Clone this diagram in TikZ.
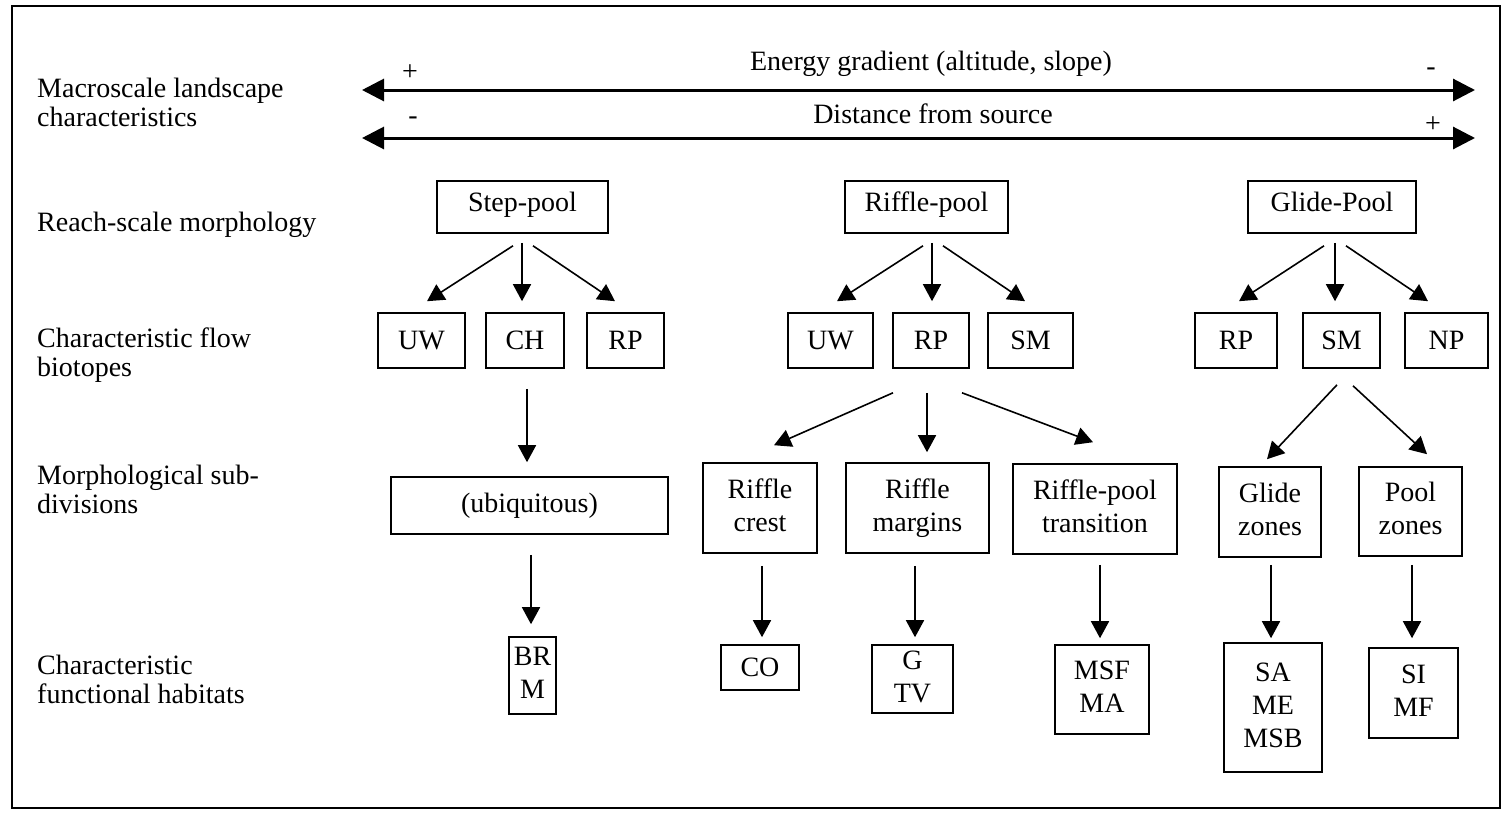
\documentclass[tikz,border=0pt]{standalone}
\usepackage{fontspec}
\setmainfont{Liberation Serif}
\usetikzlibrary{arrows.meta}
% two-line row label, first baseline at the node's base
\newcommand{\twolines}[2]{\vtop{\baselineskip=29pt\hbox{#1}\hbox{#2}}}
\begin{document}
\begin{tikzpicture}[x=1pt,y=-1pt,
  every node/.style={font=\fontsize{28}{33}\selectfont},
  box/.style={draw,line width=1.6pt,inner sep=0pt,align=center},
  topbox/.style={box,minimum height=52pt,text height=19pt,text depth=11pt},
  flowbox/.style={box,minimum height=55pt,text height=19pt,text depth=0.4pt},
  lbl/.style={anchor=base west,inner sep=0pt},
  sign/.style={inner sep=0pt},
  arr/.style={line width=1.6pt,-{Triangle[length=17pt,width=18pt]}},
  axis/.style={line width=3pt,{Triangle[length=22pt,width=22pt]}-{Triangle[length=22pt,width=22pt]}}]
\useasboundingbox (0,0) rectangle (1503,812);
\draw[line width=1.6pt] (12,6) rectangle (1500,808);

% row labels
\node[lbl] (l1) at (37,97) {\twolines{Macroscale landscape}{characteristics}};
\node[lbl] (l2) at (37,231) {Reach-scale morphology};
\node[lbl] (l3) at (37,347) {\twolines{Characteristic flow}{biotopes}};
\node[lbl] (l4) at (37,484) {\twolines{Morphological sub-}{divisions}};
\node[lbl] (l5) at (37,674) {\twolines{Characteristic}{functional habitats}};

% gradient axes
\coordinate (eL) at (362,90);
\coordinate (eR) at (1475,90);
\coordinate (dL) at (362,138);
\coordinate (dR) at (1475,138);
\draw[axis] (eL) -- (eR);
\draw[axis] (dL) -- (dR);
\node[anchor=base,inner sep=0pt] (et) at (931,70) {Energy gradient (altitude, slope)};
\node[anchor=base,inner sep=0pt] (dt) at (933,123) {Distance from source};
\node[sign] (ep) at (410,73) {+};
\node[sign] (em) at (1431,72) {-};
\node[sign] (dm) at (413,121) {-};
\node[sign] (dp) at (1433,125) {+};

% reach-scale morphology
\node[topbox,minimum width=171pt] (sp) at (522.5,207) {Step-pool};
\node[topbox,minimum width=163pt] (rp0) at (926.5,207) {Riffle-pool};
\node[topbox,minimum width=168pt] (gp) at (1332,207) {Glide-Pool};

% flow biotopes
\node[flowbox,minimum width=87pt] (uwA) at (421.5,340.5) {UW};
\node[flowbox,minimum width=78pt] (ch) at (525,340.5) {CH};
\node[flowbox,minimum width=77pt] (rpA) at (625.5,340.5) {RP};
\node[flowbox,minimum width=85pt] (uwB) at (830.5,340.5) {UW};
\node[flowbox,minimum width=76pt] (rpB) at (931,340.5) {RP};
\node[flowbox,minimum width=85pt] (smB) at (1030.5,340.5) {SM};
\node[flowbox,minimum width=82pt] (rpC) at (1236,340.5) {RP};
\node[flowbox,minimum width=77pt] (smC) at (1341.5,340.5) {SM};
\node[flowbox,minimum width=83pt] (npC) at (1446.5,340.5) {NP};

% morphological sub-divisions
\node[box,minimum width=277pt,minimum height=57pt] (ubiq) at (529.5,505.5) {(ubiquitous)};
\node[box,minimum width=114pt,minimum height=90pt] (crest) at (760,508) {\strut Riffle\\\strut crest};
\node[box,minimum width=143pt,minimum height=90pt] (marg) at (917.5,508) {\strut Riffle\\\strut margins};
\node[box,minimum width=164pt,minimum height=90pt] (trans) at (1095,509) {\strut Riffle-pool\\\strut transition};
\node[box,minimum width=102pt,minimum height=90pt] (glz) at (1270,512) {\strut Glide\\\strut zones};
\node[box,minimum width=103pt,minimum height=89pt] (plz) at (1410.5,511.5) {\strut Pool\\\strut zones};

% functional habitats
\node[box,minimum width=47pt,minimum height=77pt] (brm) at (532.5,675.5) {\strut BR\\\strut M};
\node[flowbox,minimum width=78pt,minimum height=45pt] (co) at (760,667.5) {CO};
\node[box,minimum width=81pt,minimum height=68pt] (gtv) at (912.5,679) {\strut G\\\strut TV};
\node[box,minimum width=94pt,minimum height=89pt] (msf) at (1102,689.5) {\strut MSF\\\strut MA};
\node[box,minimum width=98pt,minimum height=129pt] (sa) at (1273,707.5) {\strut SA\\\strut ME\\\strut MSB};
\node[box,minimum width=89pt,minimum height=90pt] (simf) at (1413.5,693) {\strut SI\\\strut MF};

% reach-scale to flow biotopes
\draw[arr] ([shift={(-9.5,12)}]sp.south) -- ([shift={(5.5,-11)}]uwA.north);
\draw[arr] ([shift={(-0.5,9)}]sp.south) -- ([shift={(-3,-11)}]ch.north);
\draw[arr] ([shift={(10.5,12)}]sp.south) -- ([shift={(-10.5,-11)}]rpA.north);
\draw[arr] ([shift={(-3.5,12)}]rp0.south) -- ([shift={(6.5,-11)}]uwB.north);
\draw[arr] ([shift={(5.5,9)}]rp0.south) -- ([shift={(1,-11)}]rpB.north);
\draw[arr] ([shift={(16.5,12)}]rp0.south) -- ([shift={(-5.5,-11)}]smB.north);
\draw[arr] ([shift={(-8,12)}]gp.south) -- ([shift={(3,-11)}]rpC.north);
\draw[arr] ([shift={(3,9)}]gp.south) -- ([shift={(-6.5,-11)}]smC.north);
\draw[arr] ([shift={(14,12)}]gp.south) -- ([shift={(-18.5,-11)}]npC.north);

% flow biotopes to sub-divisions
\draw[arr] ([shift={(2,20)}]ch.south) -- ([shift={(-2.5,-14)}]ubiq.north);
\draw[arr] ([shift={(-38,24)}]rpB.south) -- ([shift={(14,-17)}]crest.north);
\draw[arr] ([shift={(-4,24)}]rpB.south) -- ([shift={(9.5,-10)}]marg.north);
\draw[arr] ([shift={(31,24)}]rpB.south) -- ([shift={(-2,-21)}]trans.north);
\draw[arr] ([shift={(-4.5,16)}]smC.south) -- ([shift={(-3,-7)}]glz.north);
\draw[arr] ([shift={(11.5,17)}]smC.south) -- ([shift={(16.5,-12)}]plz.north);

% sub-divisions to functional habitats
\draw[arr] ([shift={(1.5,20)}]ubiq.south) -- ([shift={(-1.5,-12)}]brm.north);
\draw[arr] ([shift={(2,12)}]crest.south) -- ([shift={(2,-7)}]co.north);
\draw[arr] ([shift={(-2.5,12)}]marg.south) -- ([shift={(2.5,-7)}]gtv.north);
\draw[arr] ([shift={(5,10)}]trans.south) -- ([shift={(-2,-6)}]msf.north);
\draw[arr] ([shift={(1,7)}]glz.south) -- ([shift={(-2,-4)}]sa.north);
\draw[arr] ([shift={(1.5,8)}]plz.south) -- ([shift={(-1.5,-9)}]simf.north);
\end{tikzpicture}
\end{document}
